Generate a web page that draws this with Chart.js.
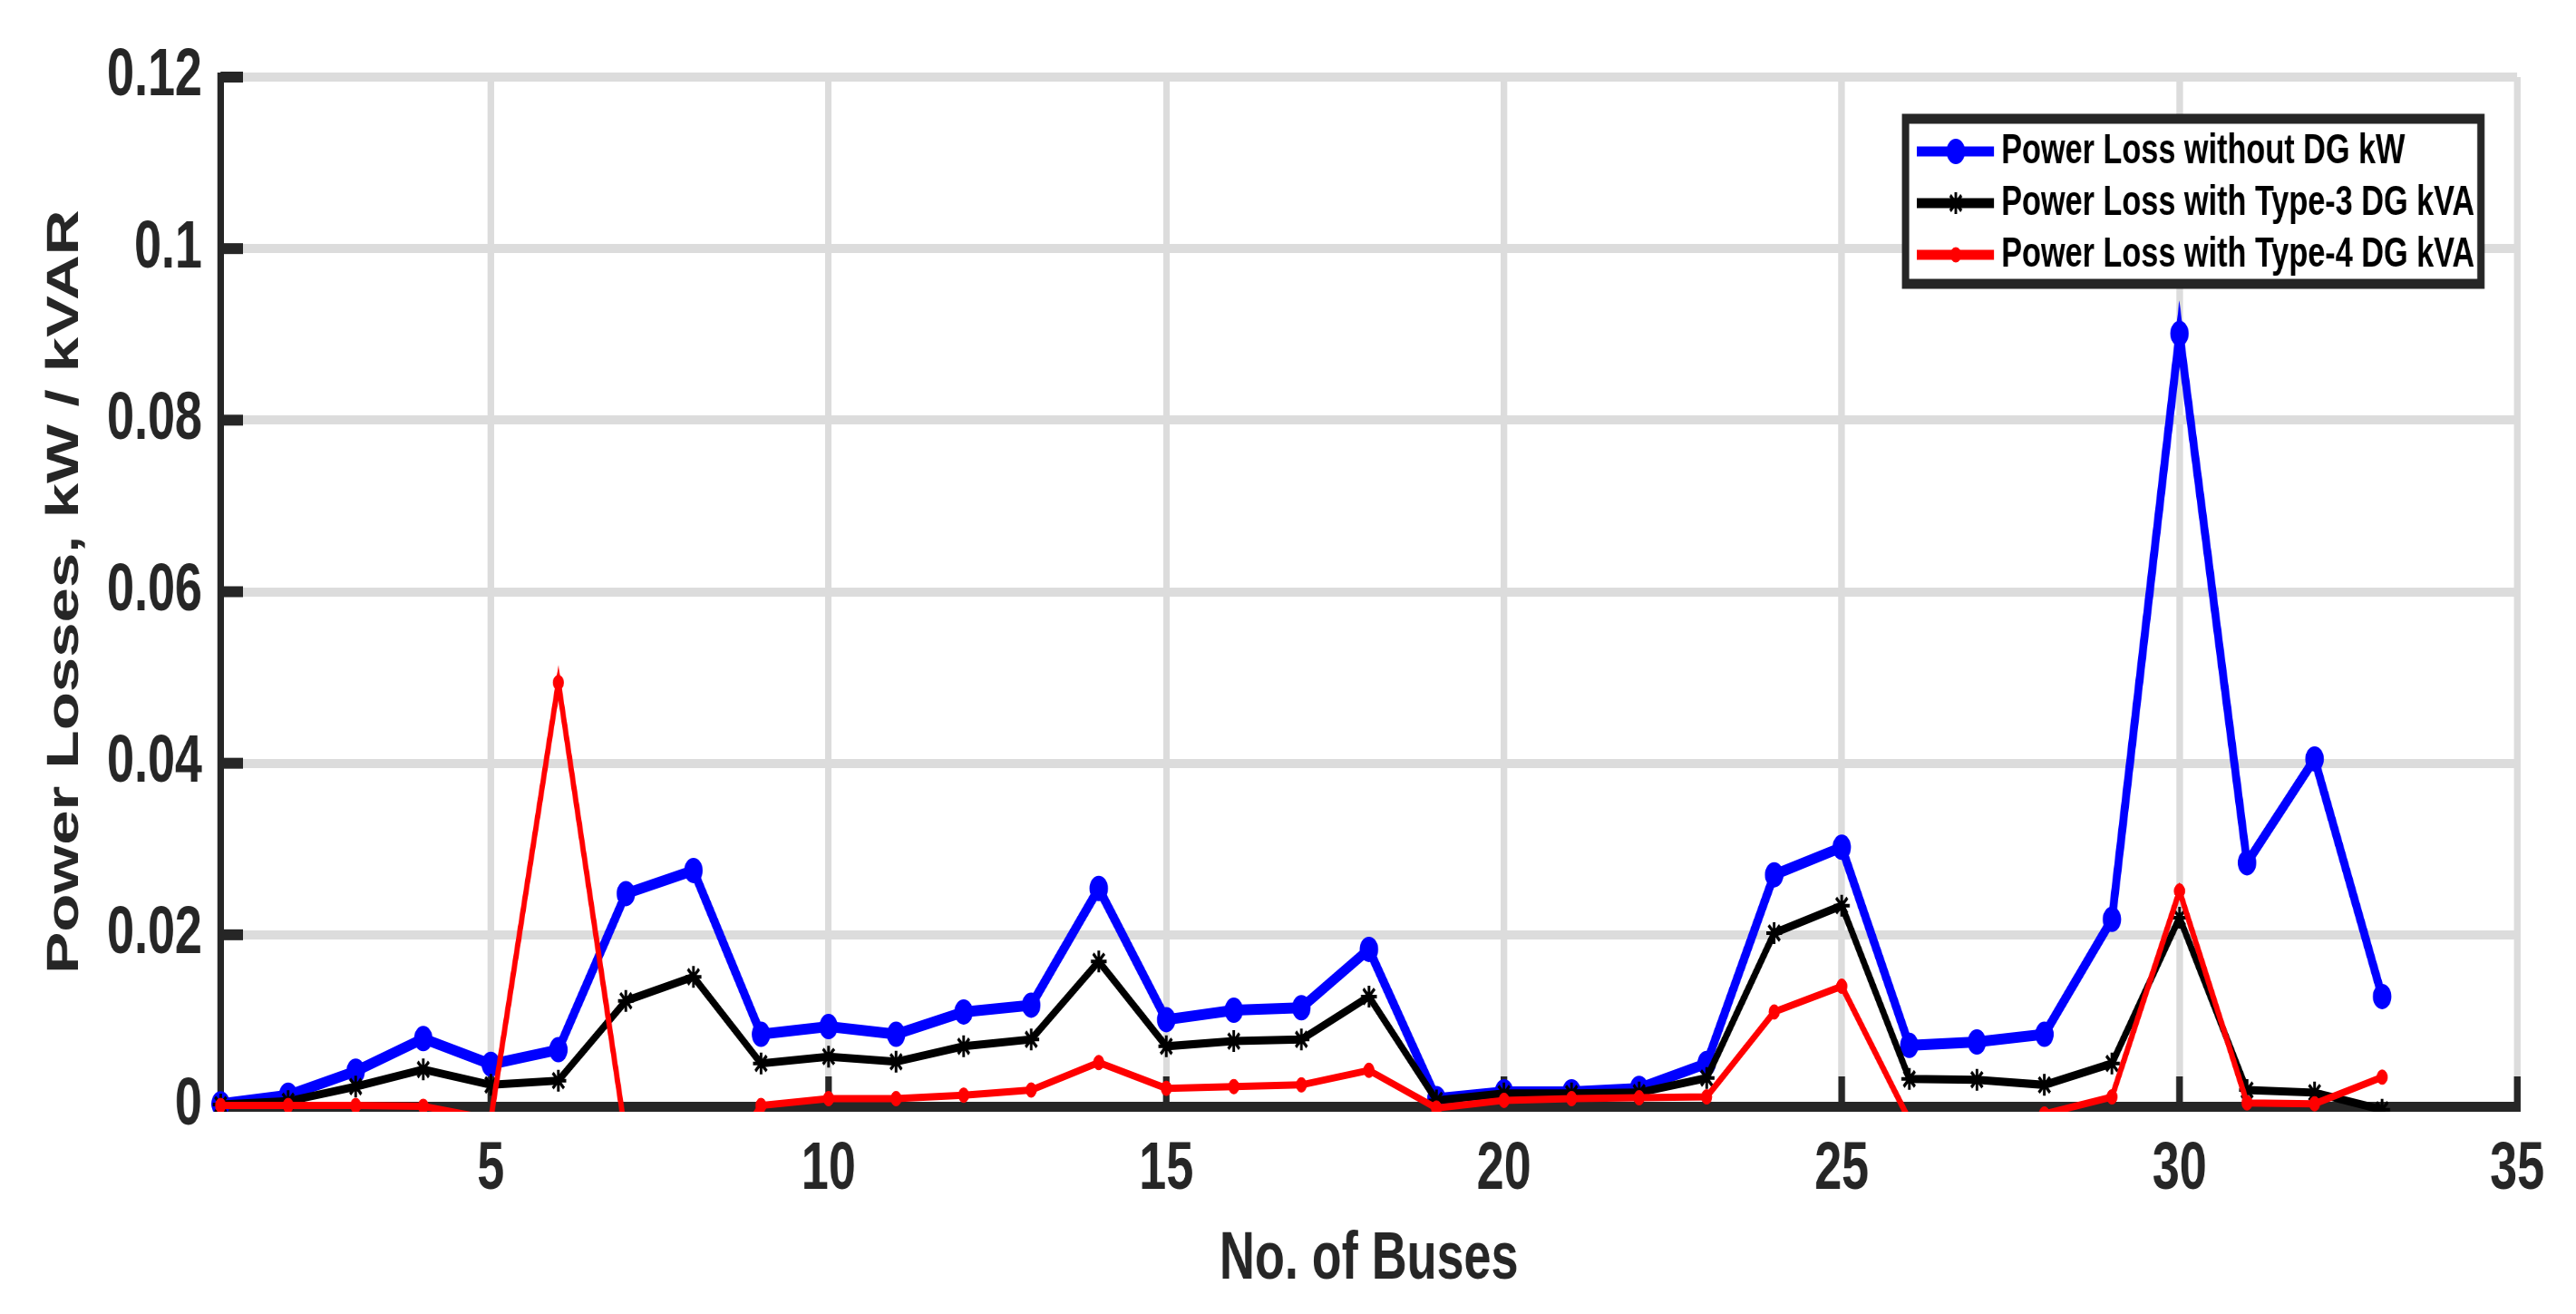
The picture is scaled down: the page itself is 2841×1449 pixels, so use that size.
<!DOCTYPE html>
<html>
<head>
<meta charset="utf-8">
<script src="https://cdn.jsdelivr.net/npm/chart.js@4.4.1/dist/chart.umd.min.js"></script>
<style>
  html, body { margin: 0; padding: 0; background: #fff; overflow: hidden; }
  /* the reference is squeezed sideways, so draw wide and squeeze the canvas */
  #wrap { width: 3900px; height: 1449px; transform: scaleX(0.72846); transform-origin: 0 0; }
</style>
</head>
<body>
<div id="wrap"><canvas id="chart" width="3900" height="1449"></canvas></div>
<script>
const buses = [1, 2, 3, 4, 5, 6, 7, 8, 9, 10, 11, 12, 13, 14, 15, 16, 17, 18, 19, 20, 21, 22, 23, 24, 25, 26, 27, 28, 29, 30, 31, 32, 33];

const lossNoDG = [0.0003, 0.0013, 0.0041, 0.0079, 0.0049, 0.0066, 0.0248, 0.0275, 0.0084, 0.0093,
  0.0084, 0.0110, 0.0118, 0.0254, 0.0101, 0.0112, 0.0115, 0.0183, 0.0009, 0.0017,
  0.0017, 0.0021, 0.0050, 0.0270, 0.0302, 0.0071, 0.0075, 0.0084, 0.0218, 0.0901,
  0.0284, 0.0405, 0.0128];

const lossType3 = [0.0002, 0.0006, 0.0023, 0.0043, 0.0025, 0.0030, 0.0123, 0.0151, 0.0050, 0.0058,
  0.0052, 0.0070, 0.0078, 0.0169, 0.0070, 0.0076, 0.0078, 0.0128, 0.0007, 0.0015,
  0.0015, 0.0016, 0.0033, 0.0202, 0.0234, 0.0032, 0.0031, 0.0025, 0.0050, 0.0220,
  0.0019, 0.0016, -0.0004];

const lossType4 = [0.0001, 0.0001, 0.0001, 0.0000, -0.0015, 0.0494, -0.0036, -0.0120, 0.0001, 0.0009,
  0.0009, 0.0013, 0.0019, 0.0051, 0.0021, 0.0023, 0.0025, 0.0042, -0.0002, 0.0007,
  0.0009, 0.0010, 0.0011, 0.0110, 0.0140, -0.0016, -0.0030, -0.0009, 0.0011, 0.0251,
  0.0004, 0.0003, 0.0034];

const seriesNames = ["Power Loss without DG kW", "Power Loss with Type-3 DG kVA", "Power Loss with Type-4 DG kVA"];
const xTicks = [5, 10, 15, 20, 25, 30, 35];
const yTicks = [0, 0.02, 0.04, 0.06, 0.08, 0.1, 0.12];
const yTickLabels = ["0", "0.02", "0.04", "0.06", "0.08", "0.1", "0.12"];

const FONT = "'Liberation Sans', Arial, sans-serif";
const AXIS = "#262626";
const GRID = "#dcdcdc";

function points(values) {
  return buses.map((b, i) => ({ x: b, y: values[i] }));
}

// inward tick marks, like the matlab axes
const innerTicks = {
  id: "innerTicks",
  beforeDatasetsDraw(chart) {
    const { ctx, chartArea, scales } = chart;
    ctx.save();
    ctx.fillStyle = AXIS;
    yTicks.forEach(v => {
      const y = scales.y.getPixelForValue(v);
      ctx.fillRect(chartArea.left, y - 6, 34, 12);
    });
    xTicks.forEach(v => {
      const x = scales.x.getPixelForValue(v);
      ctx.fillRect(x - 5, chartArea.bottom - 33, 10, 33);
    });
    ctx.restore();
  }
};

// boxed legend in the upper right corner
const boxLegend = {
  id: "boxLegend",
  afterDraw(chart) {
    const { ctx, chartArea } = chart;
    const left = chartArea.right - 926;
    const top = chartArea.top + 46;
    const w = 871, h = 182;
    ctx.save();
    ctx.fillStyle = "#fff";
    ctx.fillRect(left, top, w, h);
    ctx.lineWidth = 11;
    ctx.strokeStyle = AXIS;
    ctx.strokeRect(left, top, w, h);
    ctx.font = "bold 47px " + FONT;
    ctx.textBaseline = "middle";
    chart.data.datasets.forEach((ds, i) => {
      const y = top + 36 + i * 57;
      ctx.strokeStyle = ds.borderColor;
      ctx.lineWidth = 11;
      ctx.beginPath();
      ctx.moveTo(left + 17, y);
      ctx.lineTo(left + 134, y);
      ctx.stroke();
      ctx.fillStyle = ds.pointBackgroundColor;
      ctx.strokeStyle = ds.pointBorderColor;
      ctx.lineWidth = ds.pointBorderWidth;
      Chart.helpers.drawPoint(ctx, { pointStyle: ds.pointStyle, radius: ds.pointRadius, borderWidth: ds.pointBorderWidth, rotation: 0 }, left + 76, y);
      ctx.fillStyle = "#000";
      ctx.fillText(seriesNames[i], left + 145, y);
    });
    ctx.restore();
  }
};

const clipBox = { left: 30, top: 30, right: 30, bottom: 6 };

new Chart(document.getElementById("chart"), {
  type: "line",
  data: {
    datasets: [
      {
        label: seriesNames[0],
        data: points(lossNoDG),
        borderColor: "#0000ff",
        borderWidth: 12,
        pointStyle: "circle",
        pointRadius: 13,
        pointBackgroundColor: "#0000ff",
        pointBorderColor: "#0000ff",
        pointBorderWidth: 2,
        order: 3,
        clip: clipBox
      },
      {
        label: seriesNames[1],
        data: points(lossType3),
        borderColor: "#000000",
        borderWidth: 9,
        pointStyle: "star",
        pointRadius: 12,
        pointBackgroundColor: "#000000",
        pointBorderColor: "#000000",
        pointBorderWidth: 4,
        order: 2,
        clip: clipBox
      },
      {
        label: seriesNames[2],
        data: points(lossType4),
        borderColor: "#ff0000",
        borderWidth: 8,
        pointStyle: "circle",
        pointRadius: 8,
        pointBackgroundColor: "#ff0000",
        pointBorderColor: "#ff0000",
        pointBorderWidth: 1,
        order: 1,
        clip: clipBox
      }
    ]
  },
  options: {
    responsive: false,
    devicePixelRatio: 1,
    animation: false,
    layout: { padding: { left: 0, right: 89, top: 85, bottom: 0 } },
    plugins: {
      legend: { display: false },
      tooltip: { enabled: false }
    },
    scales: {
      x: {
        type: "linear",
        min: 1,
        max: 35,
        afterBuildTicks: s => { s.ticks = xTicks.map(v => ({ value: v })); },
        afterFit: s => { s.height = 229; },
        grid: { color: GRID, lineWidth: 10, drawTicks: false },
        border: { color: AXIS, width: 11 },
        ticks: {
          color: AXIS,
          padding: 26,
          maxRotation: 0,
          autoSkip: false,
          font: { family: FONT, size: 74, weight: "bold" }
        },
        title: {
          display: true,
          text: "No. of Buses",
          color: AXIS,
          font: { family: FONT, size: 74, weight: "bold" },
          padding: { top: 0, bottom: 15 }
        }
      },
      y: {
        min: 0,
        max: 0.12,
        afterBuildTicks: s => { s.ticks = yTicks.map(v => ({ value: v })); },
        afterFit: s => { s.width = 334; },
        grid: { color: GRID, lineWidth: 10, drawTicks: false },
        border: { color: AXIS, width: 10 },
        ticks: {
          color: AXIS,
          padding: 28,
          font: { family: FONT, size: 74, weight: "bold" },
          callback: (v, i) => yTickLabels[i]
        },
        title: {
          display: true,
          text: "Power Losses, kW / kVAR",
          color: AXIS,
          font: { family: FONT, size: 69, weight: "bold" },
          padding: { top: 58, bottom: 0 }
        }
      }
    }
  },
  plugins: [innerTicks, boxLegend]
});
</script>
</body>
</html>
